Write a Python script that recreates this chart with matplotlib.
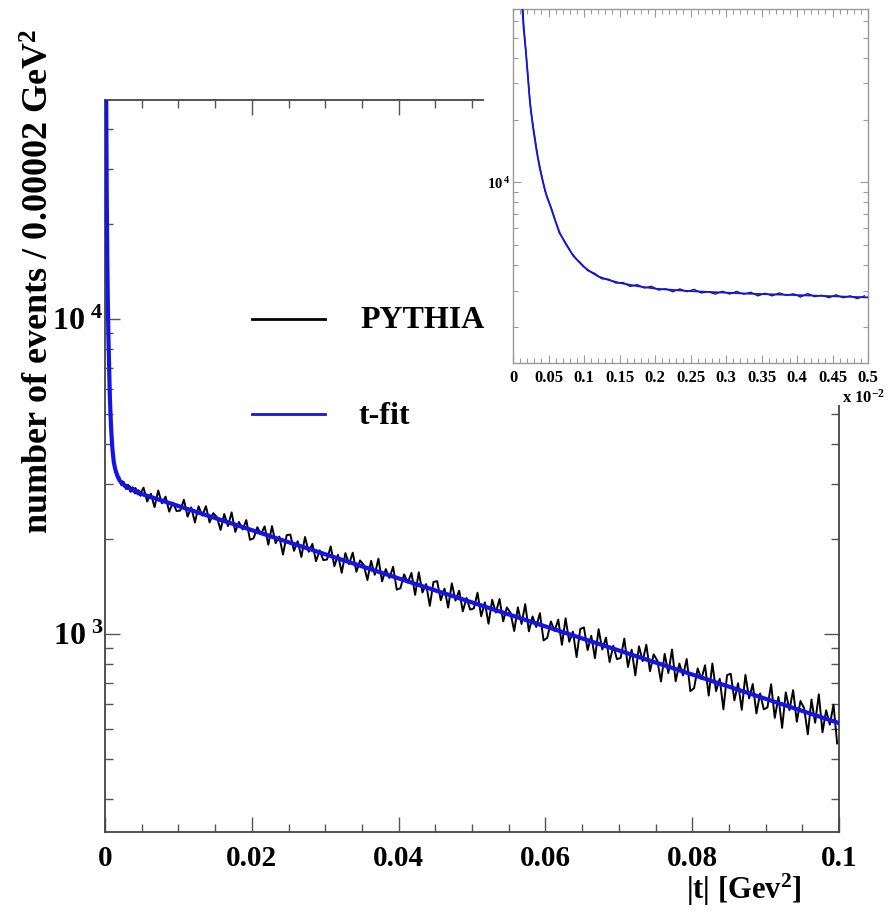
import numpy as np
import matplotlib
matplotlib.use('Agg')
import matplotlib.pyplot as plt
from matplotlib.patches import Rectangle
from matplotlib.ticker import FixedLocator, LogLocator, NullFormatter, MultipleLocator

plt.rcParams['font.family'] = ['Liberation Serif', 'DejaVu Serif']
plt.rcParams['font.weight'] = 'bold'
plt.rcParams['mathtext.fontset'] = 'custom'
plt.rcParams['mathtext.rm'] = 'Liberation Serif:bold'
plt.rcParams['mathtext.it'] = 'Liberation Serif:bold'
plt.rcParams['mathtext.bf'] = 'Liberation Serif:bold'

# ---------------- data ----------------
# PYTHIA histogram, fine part (|t| < 0.005 GeV^2), bin width 0.0001
fine_bin = 0.0001
pythia_fine = [400000, 57900, 22300, 13250, 9080, 7340, 5710, 5040, 4390, 4090,
               3750, 3630, 3420, 3400, 3260, 3280, 3140, 3205, 3085, 3145,
               3015, 3060, 2960, 3053, 2962, 3039, 2921, 2960, 2884, 2975,
               2885, 2971, 2882, 2944, 2827, 2910, 2828, 2921, 2844, 2892,
               2791, 2904, 2803, 2847, 2770, 2860, 2769, 2828, 2742, 2826]
# PYTHIA histogram, coarse part (0.005 .. 0.1 GeV^2), bin width 0.0005
coarse_start = 0.005
coarse_bin = 0.0005
pythia_coarse = [2912, 2629, 2786, 2524, 2852, 2597, 2726, 2444, 2611, 2454,
                 2463, 2666, 2355, 2522, 2257, 2541, 2374, 2541, 2258, 2416,
                 2346, 2137, 2401, 2199, 2430, 2107, 2266, 2144, 2297, 1989,
                 2011, 2181, 2073, 2194, 1918, 2198, 1940, 2036, 1785, 2057,
                 2066, 1835, 1969, 1754, 2030, 1822, 1930, 1701, 1842, 1714,
                 1722, 1895, 1639, 1781, 1562, 1804, 1666, 1810, 1574, 1710,
                 1655, 1482, 1705, 1540, 1733, 1467, 1605, 1503, 1633, 1381,
                 1396, 1545, 1455, 1561, 1330, 1569, 1353, 1439, 1227, 1461,
                 1470, 1278, 1392, 1212, 1447, 1275, 1371, 1179, 1300, 1194,
                 1204, 1351, 1137, 1259, 1077, 1282, 1168, 1290, 1096, 1213,
                 1166, 1021, 1214, 1075, 1243, 1019, 1136, 1052, 1164, 953,
                 971, 1095, 1022, 1110, 923, 1120, 944, 1016, 844, 1036,
                 1048, 888, 986, 837, 1035, 892, 973, 814, 917, 831,
                 839, 966, 785, 891, 738, 913, 819, 924, 761, 861,
                 822, 706, 864, 751, 892, 707, 805, 738, 832, 658,
                 672, 777, 718, 795, 637, 805, 658, 720, 576, 740,
                 747, 615, 697, 574, 741, 624, 693, 559, 647, 576,
                 584, 692, 541, 631, 503, 652, 573, 663, 526, 612,
                 581, 480, 619, 522, 643, 487, 572, 515, 596, 449]
# t-fit curve
fit_t = [0.00010, 0.000132, 0.00015, 0.000179, 0.0002, 0.000235, 0.00028,
         0.000329, 0.000375, 0.000423, 0.000475, 0.000527, 0.00059, 0.000659,
         0.00074, 0.000823, 0.0009, 0.000988, 0.00109, 0.0012, 0.00135,
         0.0015, 0.00175, 0.00202, 0.0025, 0.00329, 0.00423, 0.005,
         0.02, 0.04, 0.06, 0.08, 0.1]
fit_y = [125000, 68700, 55000, 43700, 35500, 25100, 18570,
         14380, 11760, 10000, 8550, 7660, 6590, 5690,
         5060, 4560, 4227, 3930, 3700, 3510, 3370,
         3265, 3150, 3060, 2980, 2900, 2835, 2780,
         2135, 1500, 1056, 743, 521]

main_xticks = [0, 0.02, 0.04, 0.06, 0.08, 0.1]
main_xticklabels = ['0', '0.02', '0.04', '0.06', '0.08', '0.1']
main_yticks = [1e3, 1e4]
main_yticklabels = [r'$10^{\,\,3}$', r'$10^{\,\,4}$']
inset_scale = 0.01  # inset x axis in units of 10^-2
inset_xticks = [0, 0.05, 0.1, 0.15, 0.2, 0.25, 0.3, 0.35, 0.4, 0.45, 0.5]
inset_xticklabels = ['0', '0.05', '0.1', '0.15', '0.2', '0.25', '0.3', '0.35', '0.4', '0.45', '0.5']
legend_labels = ['PYTHIA', 't-fit']

# ---------------- derived positions ----------------
t_fine = (np.arange(len(pythia_fine)) + 0.5) * fine_bin
t_coarse = coarse_start + (np.arange(len(pythia_coarse)) + 0.5) * coarse_bin
t_all = np.concatenate([t_fine, t_coarse])
y_all = np.concatenate([pythia_fine, pythia_coarse])
fit_t = np.array(fit_t)
fit_y = np.array(fit_y)

W, H = 888, 913
fig = plt.figure(figsize=(W / 100, H / 100), dpi=100)

def fx(px):
    return px / W

def fy(py):
    return 1 - py / H

BLUE = '#1414e6'

# ---------------- main axes ----------------
ax = fig.add_axes([fx(105), fy(832), fx(839) - fx(105), fy(100) - fy(832)])
ax.plot(t_all, y_all, color='black', lw=1.4, zorder=2)
ax.plot(fit_t, fit_y, color=BLUE, lw=3.0, zorder=3)
ax.set_yscale('log')
ax.set_xlim(0, 0.1)
ax.set_ylim(235, 49500)
ax.xaxis.set_major_locator(FixedLocator(main_xticks))
ax.set_xticklabels(main_xticklabels)
ax.xaxis.set_minor_locator(MultipleLocator(0.005))
ax.yaxis.set_major_locator(FixedLocator(main_yticks))
ax.set_yticklabels(main_yticklabels)
ax.yaxis.set_minor_locator(LogLocator(base=10, subs=np.arange(2, 10)))
ax.yaxis.set_minor_formatter(NullFormatter())
ax.tick_params(which='both', direction='in', top=True, right=True, color='#555555')
ax.tick_params(which='major', length=11, width=1.0)
ax.tick_params(which='minor', length=6, width=1.0)
ax.tick_params(axis='x', which='major', labelsize=21, pad=9)
ax.tick_params(axis='y', which='major', labelsize=23, pad=1)
for s in ax.spines.values():
    s.set_color('#444444')
    s.set_linewidth(1.3)

# legend (manual, inside main axes so the inset covers its right end)
ax.plot([fx(252), fx(325)], [fy(319), fy(319)], transform=fig.transFigure,
        color='black', lw=2.0, clip_on=False)
ax.plot([fx(252), fx(325)], [fy(414), fy(414)], transform=fig.transFigure,
        color=BLUE, lw=2.0, clip_on=False)
ax.text(fx(360), fy(320), legend_labels[0], transform=fig.transFigure,
        fontsize=23, fontweight='bold', ha='left', va='center', clip_on=False)
ax.text(fx(358), fy(416), legend_labels[1], transform=fig.transFigure,
        fontsize=23, fontweight='bold', ha='left', va='center', clip_on=False)

fig.text(fx(40), fy(281), r'number of events / 0.00002 GeV$^{2}$',
         rotation=90, ha='center', va='center', fontsize=26, fontweight='bold')
fig.text(fx(801), fy(890), r'|t| [Gev$^{2}$]', ha='right', va='center',
         fontsize=22, fontweight='bold')

# white block behind the inset
fig.patches.append(Rectangle((fx(484), fy(405)), 1 - fx(484), 1 - fy(405),
                             transform=fig.transFigure, facecolor='white',
                             edgecolor='none', zorder=1))

# ---------------- inset ----------------
axi = fig.add_axes([fx(513), fy(363), fx(868) - fx(513), fy(9) - fy(363)], zorder=2)
axi.set_facecolor('white')
axi.plot(t_fine / inset_scale, pythia_fine, color='#222222', lw=1.0, zorder=2)
axi.plot(fit_t / inset_scale, fit_y, color=BLUE, lw=1.3, zorder=3)
axi.set_yscale('log')
axi.set_xlim(0, 0.5)
axi.set_ylim(1340, 68700)
axi.xaxis.set_major_locator(FixedLocator(inset_xticks))
axi.set_xticklabels(inset_xticklabels)
axi.xaxis.set_minor_locator(MultipleLocator(0.01))
axi.yaxis.set_major_locator(FixedLocator([1e4]))
axi.set_yticklabels([r'$10^{\,4}$'])
axi.yaxis.set_minor_locator(LogLocator(base=10, subs=np.arange(2, 10)))
axi.yaxis.set_minor_formatter(NullFormatter())
axi.tick_params(which='both', direction='in', top=True, right=True, color='#999999')
axi.tick_params(which='major', length=6, width=0.8)
axi.tick_params(which='minor', length=3.5, width=0.8)
axi.tick_params(axis='x', which='major', labelsize=12, pad=5)
axi.tick_params(axis='y', which='major', labelsize=10.5, pad=2)
for s in axi.spines.values():
    s.set_color('#999999')
    s.set_linewidth(1.0)
fig.text(fx(885), fy(398), r'x 10$^{-2}$', ha='right', va='center',
         fontsize=12, fontweight='bold')

fig.savefig('out.png', dpi=100)
